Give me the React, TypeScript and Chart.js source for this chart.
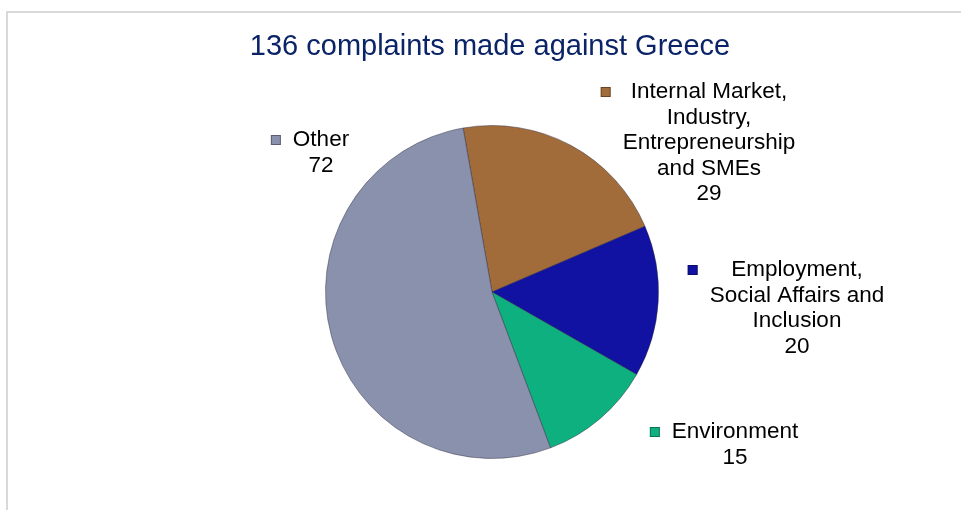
import React, { useEffect, useRef } from "react";
import { Chart, registerables } from "chart.js";

Chart.register(...registerables);

const titleText = "136 complaints made against Greece";
const categories = [
  "Internal Market, Industry, Entrepreneurship and SMEs",
  "Employment, Social Affairs and Inclusion",
  "Environment",
  "Other",
];
const labelLines = [
  ["Internal Market,", "Industry,", "Entrepreneurship", "and SMEs"],
  ["Employment,", "Social Affairs and", "Inclusion"],
  ["Environment"],
  ["Other"],
];
const values = [29, 20, 15, 72];
const colors = ["#A26B3A", "#1212A2", "#0EB080", "#8A91AD"];

// layout (label anchor: centre x, first-line y)
const LABEL_POS = [
  [709, 92],
  [797, 270],
  [735, 432],
  [321, 140],
];

export default function App() {
  const ref = useRef<HTMLCanvasElement | null>(null);
  useEffect(() => {
    if (!ref.current) return;
    const deco = {
      id: "deco",
      beforeDraw(chart: any) {
        const ctx = chart.ctx;
        ctx.save();
        ctx.fillStyle = "#ffffff";
        ctx.fillRect(0, 0, chart.width, chart.height);
        ctx.strokeStyle = "#D9D9D9";
        ctx.lineWidth = 2;
        ctx.beginPath();
        ctx.moveTo(7, chart.height + 2);
        ctx.lineTo(7, 12);
        ctx.lineTo(chart.width + 2, 12);
        ctx.stroke();
        ctx.fillStyle = "#0B2468";
        ctx.font = "29px 'Liberation Sans', Arial, sans-serif";
        ctx.textAlign = "center";
        ctx.textBaseline = "middle";
        ctx.fillText(titleText, 490, 47);
        ctx.restore();
      },
      afterDraw(chart: any) {
        const ctx = chart.ctx;
        ctx.save();
        ctx.font = "22.5px 'Liberation Sans', Arial, sans-serif";
        ctx.textAlign = "center";
        ctx.textBaseline = "middle";
        const lh = 25.5;
        labelLines.forEach((lines, i) => {
          const all = [...lines, String(values[i])];
          const [cx, y0] = LABEL_POS[i];
          let maxW = 0;
          all.forEach((t) => (maxW = Math.max(maxW, ctx.measureText(t).width)));
          ctx.fillStyle = "#000000";
          all.forEach((t, k) => ctx.fillText(t, cx, y0 + k * lh));
          const mx = cx - maxW / 2 - 22;
          ctx.fillStyle = colors[i];
          ctx.fillRect(mx, y0 - 5, 10, 10);
          ctx.strokeStyle = "rgba(0,0,0,0.35)";
          ctx.lineWidth = 1;
          ctx.strokeRect(mx + 0.5, y0 - 4.5, 9, 9);
        });
        ctx.restore();
      },
    };
    const chart = new Chart(ref.current, {
      type: "pie",
      data: {
        labels: categories,
        datasets: [
          {
            data: values,
            backgroundColor: colors,
            borderColor: "rgba(40,40,60,0.45)",
            borderWidth: 1,
          },
        ],
      },
      options: {
        responsive: false,
        animation: false,
        devicePixelRatio: 1,
        rotation: -10,
        layout: { padding: { left: 325, right: 302, top: 125, bottom: 51 } },
        plugins: {
          legend: { display: false },
          title: { display: false },
          tooltip: { enabled: false },
        },
      },
      plugins: [deco],
    });
    return () => chart.destroy();
  }, []);
  return (
    <div style={{ position: "fixed", left: 0, top: 0, width: 961, height: 510, background: "#fff" }}>
      <canvas ref={ref} width={961} height={510} style={{ display: "block" }} />
    </div>
  );
}
